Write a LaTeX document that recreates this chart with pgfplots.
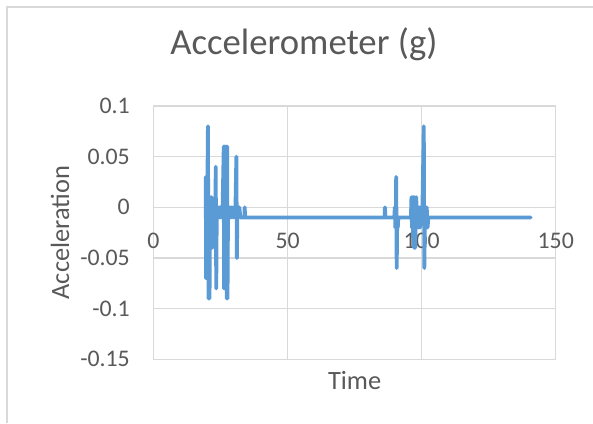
\documentclass[border=0pt]{standalone}
\usepackage{pgfplots}
\pgfplotsset{compat=1.18}
\usepackage{fontspec}
\setmainfont{Carlito}
\definecolor{gridgray}{HTML}{D9D9D9}
\definecolor{textgray}{HTML}{595959}
\definecolor{lineblue}{HTML}{5B9BD5}
\begin{document}
\begin{tikzpicture}[x=1bp,y=1bp]
\useasboundingbox (0,0) rectangle (593,-423);
\fill[white] (0,0) rectangle (593,-423);
\draw[gridgray, line width=1.3bp] (7,-423) -- (7,-7) -- (593,-7);
\begin{axis}[
  at={(153.5bp,-359.3bp)}, anchor=south west,
  scale only axis, width=402.2bp, height=253.3bp,
  xmin=0, xmax=150, ymin=-0.15, ymax=0.1,
  xtick={0,50,100,150}, xticklabels={0,50,100,150},
  ytick={-0.15,-0.1,-0.05,0,0.05,0.1},
  yticklabels={-0.15,-0.1,-0.05,0,0.05,0.1},
  scaled y ticks=false, scaled x ticks=false,
  /pgf/number format/assume math mode=true,
  major tick length=0pt,
  grid=major,
  grid style={gridgray, line width=1.3bp},
  axis line style={gridgray, line width=1.3bp},
  ticklabel style={font=\fontsize{23.8bp}{28bp}\selectfont, text=textgray, inner sep=0pt},
  xticklabel style={anchor=north, yshift=126.3bp},
  yticklabel style={anchor=east, xshift=-23.5bp},
  title={Accelerometer (g)},
  title style={at={(axis description cs:0.374,1.1816)}, anchor=base, inner sep=0pt,
    font=\fontsize{36.7bp}{44bp}\selectfont, text=textgray},
  xlabel={Time},
  xlabel style={at={(axis description cs:0.5,-0.1184)}, anchor=base, inner sep=0pt,
    font=\fontsize{26.4bp}{32bp}\selectfont, text=textgray},
  ylabel={Acceleration},
  ylabel style={at={(axis description cs:-0.210,0.5)}, anchor=base, inner sep=0pt,
    font=\fontsize{26.4bp}{32bp}\selectfont, text=textgray},
]
\addplot[lineblue, line width=3.8bp, line join=round, line cap=round] coordinates {
(19.5,0.03) (19.6,-0.07) (19.8,0.0) (20.0,-0.01) (20.3,0.08) (20.5,-0.09)
(20.7,0.0) (20.9,-0.09) (21.1,0.01) (21.3,-0.01) (21.6,0.0) (21.7,0.01)
(21.9,-0.04) (22.2,0.0) (22.5,-0.01) (22.8,0.0) (23.1,-0.01) (23.2,0.04)
(23.4,-0.08) (23.6,0.0) (23.9,-0.01) (24.2,0.0) (24.5,-0.01) (24.8,0.0)
(25.1,-0.01) (25.4,0.0) (25.7,-0.01) (26.2,0.06) (26.3,-0.08) (26.6,0.06)
(26.8,-0.08) (27.0,0.06) (27.3,-0.09) (27.5,0.06) (27.6,-0.09) (27.8,0.0)
(28.1,-0.01) (28.4,0.0) (28.7,-0.01) (29.0,0.0) (29.3,-0.01) (29.6,0.0)
(29.9,-0.01) (30.2,0.0) (30.5,-0.01) (30.9,0.05) (31.1,-0.05) (31.3,0.0)
(31.6,-0.01) (32.0,0.0) (32.4,-0.01) (33.9,-0.01) (34.0,0.0) (34.2,-0.01)
(86.2,-0.01) (86.3,0.0) (86.5,-0.01) (89.8,-0.01) (90.0,0.0) (90.2,-0.02)
(90.4,0.0) (90.5,0.03) (90.7,-0.06) (90.9,-0.01) (91.1,-0.02) (91.3,-0.01)
(96.0,-0.01) (96.2,0.01) (96.4,-0.02) (96.6,0.01) (96.8,-0.03) (97.0,0.01)
(97.2,-0.04) (97.4,0.01) (97.6,-0.04) (97.8,0.0) (98.0,0.01) (98.2,-0.02)
(98.5,0.0) (98.8,-0.02) (99.1,0.0) (99.4,-0.02) (99.7,0.0) (100.0,-0.01)
(100.3,0.0) (100.8,0.08) (101.0,-0.06) (101.3,0.0) (101.6,-0.02) (101.9,0.0)
(102.2,-0.02) (102.5,-0.01) (140.7,-0.01)
};
\end{axis}
\end{tikzpicture}
\end{document}
